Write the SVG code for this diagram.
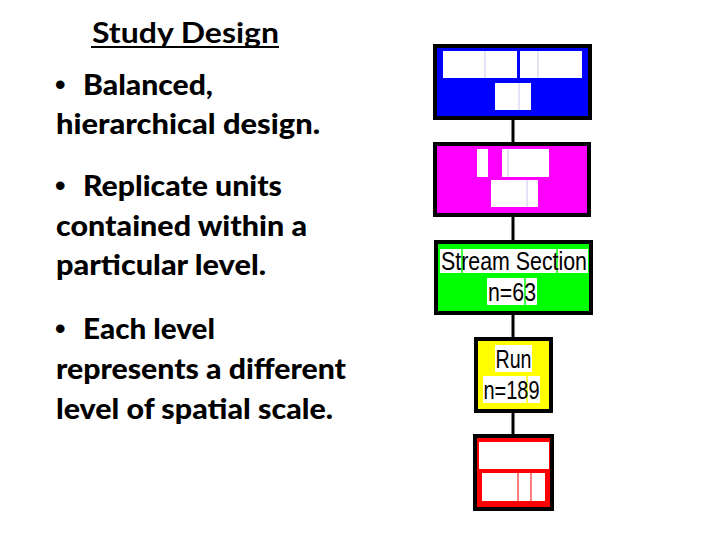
<svg xmlns="http://www.w3.org/2000/svg" width="720" height="540" viewBox="0 0 720 540">
<style>
.body{font-family:Lato,"Open Sans","DejaVu Sans",sans-serif;font-weight:900;font-size:28px;fill:#000}
.bul{font-family:"Liberation Sans",Arial,sans-serif;font-size:30px;fill:#000}
.title{font-family:Lato,"Open Sans","DejaVu Sans",sans-serif;font-weight:bold;font-size:28px;fill:#000}
.box{stroke:#000;stroke-width:4}
.blk{fill:#fff}
.lbl{font-family:"Liberation Sans",Arial,sans-serif;font-size:25px;fill:#000;text-anchor:middle}
.fl{stroke:#c8c8ee;stroke-width:1}
.conn{stroke:#000;stroke-width:3}
</style>
<rect width="720" height="540" fill="#fff"/>
<g id="text">
<text class="title" x="92" y="43" textLength="187" lengthAdjust="spacingAndGlyphs">Study Design</text>
<rect x="91" y="46" width="188" height="2" fill="#000"/>
<text class="body" y="95"><tspan class="bul" x="55">•</tspan><tspan x="83" textLength="130" lengthAdjust="spacingAndGlyphs">Balanced,</tspan></text>
<text class="body" x="56" y="134" textLength="264" lengthAdjust="spacingAndGlyphs">hierarchical design.</text>
<text class="body" y="196"><tspan class="bul" x="55">•</tspan><tspan x="83" textLength="199" lengthAdjust="spacingAndGlyphs">Replicate units</tspan></text>
<text class="body" x="56" y="236" textLength="251" lengthAdjust="spacingAndGlyphs">contained within a</text>
<text class="body" x="56" y="275" textLength="210" lengthAdjust="spacingAndGlyphs">particular level.</text>
<text class="body" y="339"><tspan class="bul" x="55">•</tspan><tspan x="83" textLength="132" lengthAdjust="spacingAndGlyphs">Each level</tspan></text>
<text class="body" x="56" y="379" textLength="290" lengthAdjust="spacingAndGlyphs">represents a different</text>
<text class="body" x="56" y="419" textLength="277" lengthAdjust="spacingAndGlyphs">level of spatial scale.</text>
</g>
<g id="connectors">
<line class="conn" x1="513" y1="119" x2="513" y2="143"/>
<line class="conn" x1="513" y1="216" x2="513" y2="241"/>
<line class="conn" x1="513" y1="314" x2="513" y2="338"/>
<line class="conn" x1="513" y1="412" x2="513" y2="435"/>
</g>
<g id="node-blue">
<rect class="box" x="435" y="46" width="155" height="72" fill="#0000ff"/>
<rect class="blk" x="443" y="51" width="74" height="27"/>
<rect class="blk" x="520" y="51" width="62" height="27"/>
<rect class="blk" x="495" y="83" width="36" height="27"/>
<line class="fl" x1="485" y1="51" x2="485" y2="78"/>
<line class="fl" x1="538" y1="51" x2="538" y2="78"/>
<line class="fl" x1="519" y1="83" x2="519" y2="110"/>
</g>
<g id="node-magenta">
<rect class="box" x="435" y="144" width="154" height="71" fill="#ff00ff"/>
<rect class="blk" x="477" y="149" width="11" height="28"/>
<rect class="blk" x="502" y="149" width="47" height="28"/>
<rect class="blk" x="491" y="180" width="47" height="27"/>
<line class="fl" x1="508" y1="149" x2="508" y2="177"/>
<line class="fl" x1="527" y1="180" x2="527" y2="207"/>
</g>
<g id="node-stream">
<rect class="box" x="436" y="242" width="155" height="71" fill="#00ff00"/>
<rect class="blk" x="440" y="249" width="148" height="24"/>
<rect class="blk" x="487" y="278" width="50" height="27"/>
<line x1="462" y1="249" x2="462" y2="273" stroke="#00ff00" stroke-width="1.5"/>
<line x1="557" y1="249" x2="557" y2="273" stroke="#00ff00" stroke-width="1.5"/>
<line x1="525" y1="278" x2="525" y2="305" stroke="#00ff00" stroke-width="1.5"/>
<text class="lbl" x="514" y="270" textLength="146" lengthAdjust="spacingAndGlyphs">Stream Section</text>
<text class="lbl" x="512" y="301" textLength="48" lengthAdjust="spacingAndGlyphs">n=63</text>
</g>
<g id="node-run">
<rect class="box" x="476" y="339" width="75" height="72" fill="#ffff00"/>
<rect class="blk" x="495" y="345" width="37" height="27"/>
<rect class="blk" x="483" y="376" width="57" height="27"/>
<line x1="527" y1="376" x2="527" y2="403" stroke="#ffff00" stroke-width="1.5"/>
<text class="lbl" x="513.5" y="368" textLength="36" lengthAdjust="spacingAndGlyphs">Run</text>
<text class="lbl" x="511.5" y="399" textLength="56" lengthAdjust="spacingAndGlyphs">n=189</text>
</g>
<g id="node-red">
<rect class="box" x="475" y="436" width="77" height="73" fill="#ff0000"/>
<rect class="blk" x="479" y="442" width="70" height="27"/>
<rect class="blk" x="482" y="473" width="63" height="28"/>
<line x1="518" y1="473" x2="518" y2="501" stroke="#ff0000" stroke-width="1"/>
<line x1="531" y1="473" x2="531" y2="501" stroke="#ff0000" stroke-width="1"/>
</g>
</svg>
